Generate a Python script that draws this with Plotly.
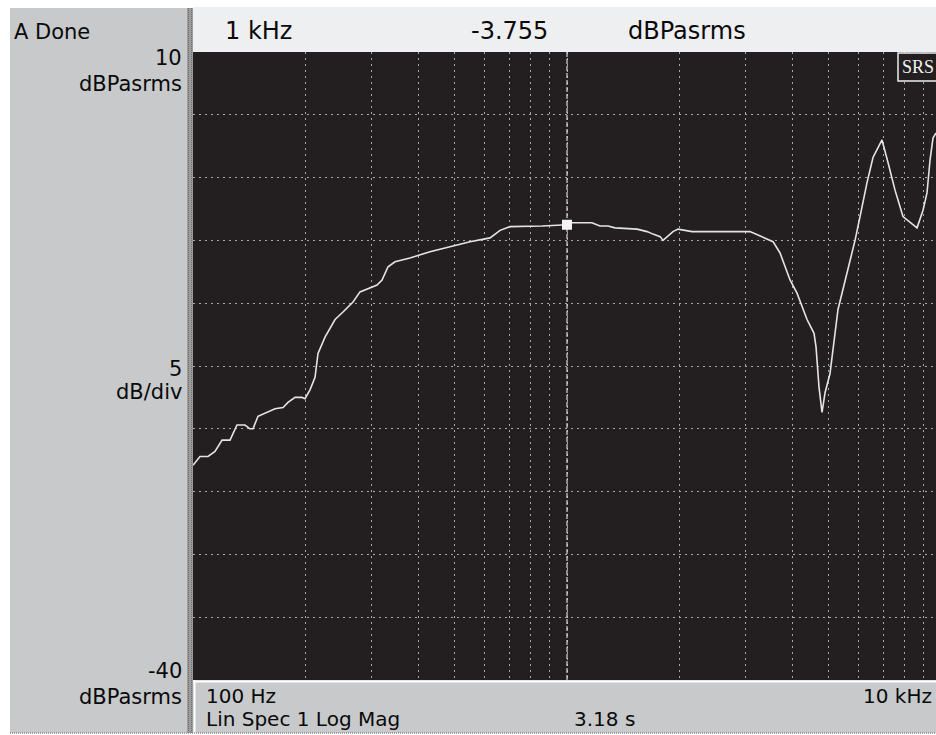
import plotly.graph_objects as go

# ---------------- data ----------------
freq_hz = [100, 104.4, 109.7, 114.5, 119.6, 125.6, 131.1, 137.7, 142.0, 144.7,
           149.2, 157.7, 165.7, 174.1, 179.5, 187.4, 195.6, 199.3, 205.5, 212.0,
           215.9, 225.4, 239.8, 251.8, 267.8, 279.6, 297.4, 310.5, 320.2, 332.3,
           346.9, 380.3, 430.2, 486.7, 550.5, 622.6, 662.2, 704.1, 772.1, 786.5,
           811.1, 857.4, 1000, 1031, 1166, 1225, 1287, 1344, 1539, 1637,
           1698, 1774, 1806, 1851, 1920, 1981, 2068, 2159, 3085, 3281,
           3555, 3712, 3948, 4121, 4383, 4576, 4633, 4719, 4807, 4896,
           5049, 5304, 5606, 5890, 6074, 6341, 6579, 6954, 7216, 7534,
           7913, 8627, 8952, 9176, 9346, 9519, 9697]
level_db = [-22.9, -22.2, -22.2, -21.8, -20.9, -20.9, -19.7, -19.7, -20.0, -20.0,
            -19.0, -18.7, -18.4, -18.3, -17.9, -17.5, -17.5, -17.6, -16.9, -15.9,
            -14.0, -12.7, -11.3, -10.7, -9.9, -9.1, -8.8, -8.55, -8.15, -7.1,
            -6.7, -6.4, -5.9, -5.5, -5.1, -4.8, -4.2, -3.9, -3.9, -3.85,
            -3.9, -3.85, -3.755, -3.6, -3.6, -3.85, -3.85, -4.0, -4.1, -4.3,
            -4.5, -4.7, -5.0, -4.7, -4.3, -4.1, -4.2, -4.3, -4.3, -4.65,
            -5.1, -6.0, -8.15, -9.2, -11.3, -12.4, -13.5, -16.7, -18.7, -17.15,
            -15.6, -10.5, -7.6, -5.0, -3.1, -0.4, 1.6, 3.0, 1.2, -1.0,
            -3.1, -4.0, -2.6, -1.2, 1.4, 3.15, 3.55]

cursor_freq = 1000
cursor_db = -3.755
y_top, y_bottom, y_div = 10, -40, 5
x_start_label = "100 Hz"
x_stop_label = "10 kHz"

# ---------------- layout helpers (pixel -> paper) ----------------
L, R, T, B = 193, 936, 52, 680
W, H = 936, 735
def PX(px):
    return (px - L) / (R - L)
def PY(py):
    return (B - py) / (B - T)

fig = go.Figure()

# cursor line
fig.add_trace(go.Scatter(x=[cursor_freq, cursor_freq], y=[y_bottom, y_top], mode="lines",
                         line=dict(color="#d8d8d8", width=1.2, dash="5px,2px"),
                         hoverinfo="skip", showlegend=False))
# spectrum trace
fig.add_trace(go.Scatter(x=freq_hz, y=level_db, mode="lines",
                         line=dict(color="#e4e4e4", width=1.6),
                         showlegend=False))
# cursor marker
fig.add_trace(go.Scatter(x=[cursor_freq], y=[cursor_db], mode="markers",
                         marker=dict(symbol="square", size=10, color="#f4f4f4",
                                     line=dict(width=0)),
                         showlegend=False))

shapes = []
def rect(x0, y0, x1, y1, fill, line_color=None, lw=0, layer="below"):
    shapes.append(dict(type="rect", xref="paper", yref="paper",
                       x0=PX(x0), x1=PX(x1), y0=PY(y1), y1=PY(y0),
                       fillcolor=fill, layer=layer,
                       line=dict(color=line_color or fill, width=lw)))
def hline(x0, x1, y, color, w=1, dash="solid"):
    shapes.append(dict(type="line", xref="paper", yref="paper",
                       x0=PX(x0), x1=PX(x1), y0=PY(y), y1=PY(y),
                       line=dict(color=color, width=w, dash=dash)))
def vline(x, y0, y1, color, w=1, dash="solid"):
    shapes.append(dict(type="line", xref="paper", yref="paper",
                       x0=PX(x), x1=PX(x), y0=PY(y0), y1=PY(y1),
                       line=dict(color=color, width=w, dash=dash)))

# left grey panel
rect(10, 8, 187, 733, "#c8c9cb")
# textured strip between panel and plot
rect(187, 8, 193, 733, "#9c9c9c")
vline(188.5, 8, 733, "#6e6e6e", 1, "1px,1px")
vline(191.5, 8, 733, "#6e6e6e", 1, "1px,1px")
# top bar
rect(193, 7, 936, 52, "#eeeff1")
# bottom bar
rect(193, 680, 936, 733, "#c8c9cb")
hline(193, 936, 681.5, "#ffffff", 2)
vline(194.5, 680, 733, "#ffffff", 2)
hline(10, 936, 733, "#8a8a8a", 1.5, "1px,1px")
# SRS logo box
rect(898, 53, 938, 81, "#231f20", "#f0f0f0", 1.5, layer="above")

ann = []
FONT = "DejaVu Sans, Liberation Sans, Arial, sans-serif"
def text(s, px, py, size, xanchor="left", font=FONT, color="#0a0a0a"):
    ann.append(dict(text=s, xref="paper", yref="paper", x=PX(px), y=PY(py),
                    xanchor=xanchor, yanchor="middle", showarrow=False,
                    font=dict(family=font, size=size, color=color)))

text("A Done", 12, 32, 21)
text(str(y_top), 184, 58, 21, "right")
text("dBPasrms", 184, 84, 21, "right")
text(str(y_div), 184, 369, 21, "right")
text("dB/div", 184, 392, 21, "right")
text(str(y_bottom), 184, 671, 21, "right")
text("dBPasrms", 184, 697, 21, "right")

text("1 kHz", 223, 31, 24)
text("-3.755", 469, 31, 24)
text("dBPasrms", 626, 31, 24)

text(x_start_label, 204, 696, 20)
text("Lin Spec 1 Log Mag", 204, 719, 20)
text("3.18 s", 572, 719, 20)
text(x_stop_label, 934, 696, 20, "right")

text("SRS", 918, 67, 18, "center", font="Liberation Serif, DejaVu Serif, serif",
     color="#f2f2f2")

fig.update_layout(
    width=W, height=H,
    margin=dict(l=L, r=W - R, t=T, b=H - B, pad=0),
    paper_bgcolor="#ffffff",
    plot_bgcolor="#231f20",
    shapes=shapes,
    annotations=ann,
    showlegend=False,
)
fig.update_xaxes(type="log", range=[2, 3.9866], dtick="D1", showticklabels=False,
                 ticks="", showgrid=True, gridcolor="#a8a8a8", gridwidth=1,
                 griddash="2px,4px", zeroline=False, showline=False, fixedrange=True)
fig.update_yaxes(range=[y_bottom, y_top], dtick=y_div, showticklabels=False, ticks="",
                 showgrid=True, gridcolor="#a8a8a8", gridwidth=1, griddash="2px,4px",
                 zeroline=False, showline=False, fixedrange=True)

fig.write_html("out.html", config={"displayModeBar": False},
               post_script="document.body.style.margin='0px';"
                           "document.body.style.overflow='hidden';")
